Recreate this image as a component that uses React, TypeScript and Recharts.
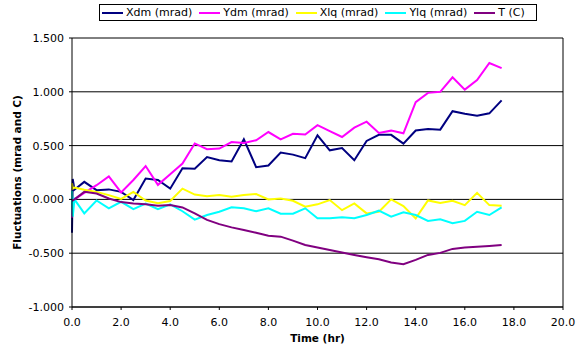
import React from 'react';
import { LineChart, Line, XAxis, YAxis, CartesianGrid, ReferenceLine } from 'recharts';

const times = [0, 0.03, 0.1, 0.5, 1.0, 1.5, 2.0, 2.5, 3.0, 3.5, 4.0, 4.5, 5.0, 5.5, 6.0, 6.5, 7.0, 7.5, 8.0, 8.5, 9.0, 9.5, 10.0, 10.5, 11.0, 11.5, 12.0, 12.5, 13.0, 13.5, 14.0, 14.5, 15.0, 15.5, 16.0, 16.5, 17.0, 17.5];

const xdm = [-0.31, 0.19, 0.09, 0.163, 0.086, 0.093, 0.07, -0.006, 0.194, 0.18, 0.1, 0.29, 0.285, 0.394, 0.364, 0.352, 0.558, 0.3, 0.315, 0.435, 0.416, 0.383, 0.595, 0.456, 0.478, 0.364, 0.543, 0.6, 0.6, 0.518, 0.64, 0.655, 0.648, 0.82, 0.796, 0.778, 0.8, 0.92];
const ydm = [-0.17, -0.05, 0.0, 0.06, 0.132, 0.213, 0.065, 0.18, 0.31, 0.135, 0.234, 0.333, 0.52, 0.466, 0.472, 0.533, 0.524, 0.55, 0.626, 0.558, 0.61, 0.603, 0.69, 0.635, 0.58, 0.667, 0.722, 0.617, 0.639, 0.614, 0.904, 0.99, 1.0, 1.135, 1.02, 1.11, 1.268, 1.22];
const xlq = [0.15, 0.1, 0.11, 0.09, 0.07, 0.04, 0.005, 0.07, -0.01, -0.035, -0.015, 0.1, 0.045, 0.03, 0.04, 0.024, 0.04, 0.05, 0.0, 0.009, -0.013, -0.068, -0.046, -0.006, -0.1, -0.037, -0.13, -0.115, 0.0, -0.062, -0.176, -0.01, -0.034, -0.013, -0.053, 0.061, -0.053, -0.059];
const ylq = [0.08, -0.16, 0.0, -0.13, -0.01, -0.083, -0.022, -0.09, -0.04, -0.09, -0.046, -0.11, -0.188, -0.145, -0.115, -0.074, -0.083, -0.11, -0.083, -0.133, -0.133, -0.083, -0.176, -0.176, -0.167, -0.176, -0.145, -0.105, -0.16, -0.12, -0.145, -0.2, -0.184, -0.222, -0.2, -0.115, -0.145, -0.074];
const temp = [-0.01, -0.01, 0.0, 0.07, 0.055, 0.009, -0.025, -0.037, -0.046, -0.058, -0.052, -0.075, -0.13, -0.19, -0.23, -0.26, -0.284, -0.31, -0.337, -0.346, -0.383, -0.423, -0.447, -0.47, -0.494, -0.516, -0.537, -0.556, -0.587, -0.602, -0.562, -0.516, -0.497, -0.46, -0.448, -0.44, -0.432, -0.423];

const seriesNames = ['Xdm (mrad)', 'Ydm (mrad)', 'Xlq (mrad)', 'Ylq (mrad)', 'T (C)'];
const seriesColors = ['#000080', '#FF00FF', '#FFFF00', '#00FFFF', '#800080'];
const seriesKeys = ['xdm', 'ydm', 'xlq', 'ylq', 'temp'];

const xTicks = [0, 2, 4, 6, 8, 10, 12, 14, 16, 18, 20];
const yTicks = [-1, -0.5, 0, 0.5, 1, 1.5];

const data = times.map((t, i) => ({
  t,
  xdm: xdm[i],
  ydm: ydm[i],
  xlq: xlq[i],
  ylq: ylq[i],
  temp: temp[i],
}));

const FONT = '"DejaVu Sans", Verdana, sans-serif';

const LegendBox = () => (
  <div
    style={{
      position: 'absolute',
      left: 99,
      top: 4,
      width: 434,
      height: 15,
      border: '1px solid #000',
      display: 'flex',
      alignItems: 'center',
      paddingLeft: 2,
      gap: 7,
      fontFamily: FONT,
      fontSize: 11,
      color: '#000',
      background: '#fff',
      boxSizing: 'content-box',
      whiteSpace: 'nowrap',
    }}
  >
    {seriesNames.map((n, i) => (
      <div key={n} style={{ display: 'flex', alignItems: 'center' }}>
        <div style={{ width: 21, height: 2, background: seriesColors[i], marginRight: 3 }} />
        <span>{n}</span>
      </div>
    ))}
  </div>
);

const YLabel = (props: any) => {
  const vb = props.viewBox || {};
  const cx = 17;
  const cy = vb.y + vb.height / 2;
  return (
    <text
      x={cx}
      y={cy}
      transform={`rotate(-90, ${cx}, ${cy})`}
      textAnchor="middle"
      dominantBaseline="central"
      fontFamily={FONT}
      fontSize={10.5}
      fontWeight="bold"
      fill="#000"
    >
      Fluctuations (mrad and C)
    </text>
  );
};

const XLabel = (props: any) => {
  const vb = props.viewBox || {};
  const cx = vb.x + vb.width / 2;
  return (
    <text
      x={cx}
      y={338}
      textAnchor="middle"
      dominantBaseline="central"
      fontFamily={FONT}
      fontSize={10.5}
      fontWeight="bold"
      fill="#000"
    >
      Time (hr)
    </text>
  );
};

export default function App() {
  return (
    <div style={{ position: 'absolute', left: 0, top: 0, width: 584, height: 352, background: '#fff' }}>
      <LineChart
        width={584}
        height={352}
        data={data}
        margin={{ top: 38, right: 21, bottom: 0, left: 0 }}
      >
        <CartesianGrid horizontal={true} vertical={false} stroke="#000" strokeWidth={1} />
        <XAxis
          dataKey="t"
          type="number"
          domain={[0, 20]}
          ticks={xTicks}
          tickFormatter={(v: number) => v.toFixed(1)}
          height={45}
          stroke="#000"
          tickSize={3}
          tickMargin={8}
          tick={{ fontFamily: FONT, fontSize: 11, fill: '#000' }}
          label={<XLabel />}
        />
        <YAxis
          type="number"
          domain={[-1, 1.5]}
          ticks={yTicks}
          tickFormatter={(v: number) => v.toFixed(3)}
          width={72}
          stroke="#000"
          tickSize={3}
          tickMargin={5}
          tick={{ fontFamily: FONT, fontSize: 11, fill: '#000' }}
          label={<YLabel />}
        />
        <ReferenceLine x={20} stroke="#000" strokeWidth={1} />
        {seriesKeys.map((k, i) => (
          <Line
            key={k}
            type="linear"
            dataKey={k}
            name={seriesNames[i]}
            stroke={seriesColors[i]}
            strokeWidth={2}
            dot={false}
            activeDot={false}
            isAnimationActive={false}
          />
        ))}
      </LineChart>
      <LegendBox />
    </div>
  );
}
